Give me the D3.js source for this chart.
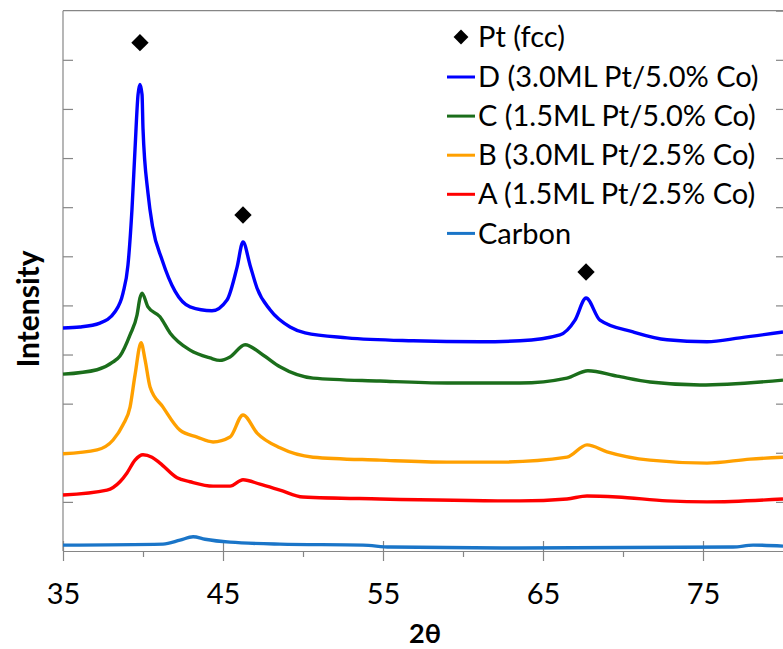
<!DOCTYPE html>
<html><head><meta charset="utf-8">
<script src="https://cdn.jsdelivr.net/npm/d3@7"></script>
<style>body{margin:0;background:#fff}svg{display:block}text{font-family:Lato,"Open Sans",sans-serif}</style>
</head><body><div id="chart"></div>
<script>
// ---- data (2θ, intensity in arbitrary offset units) ----
const seriesNames = ["D (3.0ML Pt/5.0% Co)","C (1.5ML Pt/5.0% Co)","B (3.0ML Pt/2.5% Co)","A (1.5ML Pt/2.5% Co)","Carbon"];
const seriesColors = ["#0000ff","#1b6e1b","#ffa000","#ff0000","#1a75c8"];
const dataD = [[35.0,4.54],[36.06,4.56],[37.31,4.64],[38.25,4.87],[38.75,5.25],[39.06,5.82],[39.31,6.95],[39.5,8.17],[39.69,9.29],[39.81,9.5],[39.94,9.29],[40.0,8.6],[40.31,7.29],[40.6,6.6],[41.19,5.93],[42.0,5.29],[42.94,4.97],[44.31,4.89],[45.25,5.11],[45.88,5.78],[46.25,6.29],[46.69,5.82],[47.13,5.35],[47.94,4.91],[49.19,4.56],[50.13,4.44],[52.75,4.34],[56.88,4.28],[61.06,4.26],[63.56,4.28],[66.06,4.40],[67.0,4.70],[67.69,5.15],[68.56,4.70],[70.63,4.46],[72.75,4.30],[75.25,4.26],[77.31,4.34],[80.0,4.46]];
const dataC = [[35.0,3.60],[37.13,3.69],[38.13,3.85],[38.56,3.97],[39.19,4.40],[39.63,4.81],[39.81,5.15],[39.94,5.25],[40.31,4.97],[41.06,4.77],[41.69,4.44],[42.94,4.09],[44.19,3.93],[44.81,3.88],[45.44,3.95],[46.38,4.20],[47.5,3.99],[48.56,3.75],[50.63,3.52],[54.81,3.46],[59.0,3.42],[63.56,3.42],[66.5,3.52],[67.81,3.67],[69.63,3.56],[71.69,3.44],[74.81,3.38],[80.0,3.48]];
const dataB = [[35.0,1.98],[37.13,2.06],[38.13,2.26],[38.75,2.57],[39.19,2.93],[39.5,3.58],[39.88,4.24],[40.13,3.89],[40.44,3.34],[41.25,2.93],[42.31,2.46],[43.38,2.32],[44.38,2.22],[45.44,2.32],[46.25,2.77],[47.13,2.40],[48.56,2.10],[50.63,1.91],[54.81,1.85],[59.0,1.81],[62.31,1.81],[66.5,1.91],[67.75,2.16],[69.0,2.02],[71.69,1.85],[75.25,1.79],[77.94,1.87],[80.0,1.91]];
const dataA = [[35.0,1.14],[37.75,1.24],[38.56,1.41],[39.0,1.59],[39.5,1.85],[40.0,1.96],[40.56,1.91],[41.06,1.79],[42.13,1.49],[42.94,1.41],[44.38,1.32],[45.44,1.32],[46.25,1.45],[47.31,1.36],[48.56,1.24],[50.0,1.10],[54.81,1.06],[63.56,1.02],[66.5,1.06],[67.75,1.12],[69.63,1.10],[72.75,1.02],[75.25,1.00],[80.0,1.06]];
const dataCarbon = [[35.0,0.12],[41.25,0.14],[42.31,0.22],[43.13,0.29],[43.88,0.24],[45.44,0.18],[48.56,0.14],[53.75,0.12],[55.44,0.08],[63.56,0.06],[76.88,0.08],[78.13,0.12],[80.0,0.10]];
const ptPeaks = [[39.81,10.35],[46.25,6.84],[67.69,5.68]];
const xTickLabels = [35,45,55,65,75];
const xMinorTicks = [40,50,60,70];
const yTicks = [1,2,3,4,5,6,7,8,9,10];

// ---- layout ----
const W = 783, H = 649;
const FS = 29;
const svg = d3.select("#chart").append("svg").attr("width", W).attr("height", H);
const x = d3.scaleLinear().domain([35, 80]).range([63, 783]);
const y = d3.scaleLinear().domain([0, 11]).range([551, 10.7]);
const axisCol = "#868686";

// top border
svg.append("line").attr("x1", 63).attr("x2", W).attr("y1", y(11)).attr("y2", y(11)).attr("stroke", axisCol).attr("stroke-width", 1.2);

// left axis: ticks inside
const gL = svg.append("g").attr("transform", `translate(${x(35)},0)`)
  .call(d3.axisRight(y).tickValues(yTicks).tickSize(10).tickFormat(""));
// right axis (line just beyond view), ticks inward
const gR = svg.append("g").attr("transform", `translate(${W + 3},0)`)
  .call(d3.axisLeft(y).tickValues(yTicks).tickSize(10).tickFormat(""));
// bottom axis: major ticks cross, minor ticks outward
const gB = svg.append("g").attr("transform", `translate(0,${y(0)})`)
  .call(d3.axisBottom(x).tickValues(xTickLabels).tickSize(10).tickPadding(22).tickSizeOuter(0));
gB.selectAll(".tick line").attr("y1", -10);
const gBm = svg.append("g").attr("transform", `translate(0,${y(0)})`)
  .call(d3.axisBottom(x).tickValues(xMinorTicks).tickSize(6).tickFormat("").tickSizeOuter(0));
gBm.select(".domain").remove();
[gL, gR, gB, gBm].forEach(g => {
  g.selectAll("path.domain").attr("stroke", axisCol).attr("stroke-width", 1.2);
  g.selectAll(".tick line").attr("stroke", axisCol).attr("stroke-width", 1.2);
});
gL.select(".domain").attr("d", `M0,${y(0)}V${y(11)}`);
gB.selectAll(".tick text").attr("font-size", FS).attr("fill", "#000").style("font-family", "Lato, 'Open Sans', sans-serif");

// curves
const allData = [dataD, dataC, dataB, dataA, dataCarbon];
const line = d3.line().x(d => x(d[0])).y(d => y(d[1])).curve(d3.curveMonotoneX);
allData.forEach((ds, i) => {
  svg.append("path").datum(ds).attr("d", line).attr("fill", "none")
    .attr("stroke", seriesColors[i]).attr("stroke-width", 3.4).attr("stroke-linejoin", "round");
});

// Pt markers
const diamond = d3.symbol().type(d3.symbolSquare).size(150);
svg.selectAll("path.pt").data(ptPeaks).join("path").attr("class", "pt")
  .attr("d", diamond).attr("fill", "#000")
  .attr("transform", d => `translate(${x(d[0])},${y(d[1])}) rotate(45)`);

// legend
const lg = svg.append("g");
lg.append("path").attr("d", d3.symbol().type(d3.symbolSquare).size(110)).attr("fill", "#000")
  .attr("transform", "translate(461,37) rotate(45)");
lg.append("text").attr("x", 478).attr("y", 37).attr("dy", "0.35em").attr("font-size", FS).text("Pt (fcc)");
seriesNames.forEach((n, i) => {
  const cy = 77 + i * 39.1;
  lg.append("line").attr("x1", 447).attr("x2", 475).attr("y1", cy).attr("y2", cy)
    .attr("stroke", seriesColors[i]).attr("stroke-width", 3);
  lg.append("text").attr("x", 478).attr("y", cy).attr("dy", "0.35em").attr("font-size", FS).text(n);
});

// axis titles
svg.append("text").attr("x", 425).attr("y", 642.5).attr("text-anchor", "middle")
  .attr("font-size", 27).attr("font-weight", "bold").text("2θ");
svg.append("text").attr("transform", "translate(28,309) rotate(-90)").attr("dy", "0.35em")
  .attr("text-anchor", "middle").attr("font-size", 30).attr("font-weight", "bold").text("Intensity");
</script></body></html>
